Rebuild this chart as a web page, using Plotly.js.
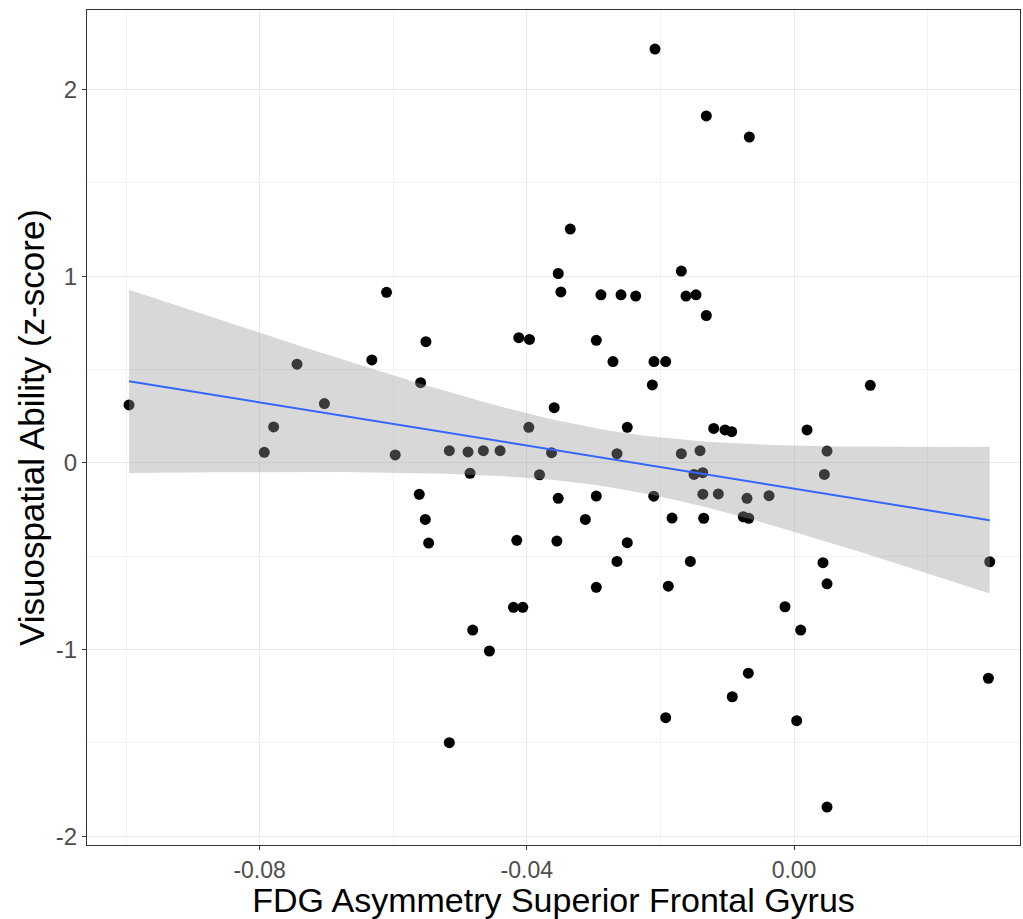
<!DOCTYPE html>
<html>
<head>
<meta charset="utf-8">
<script src="https://cdn.plot.ly/plotly-3.0.1.min.js"></script>
<style>
html,body{margin:0;padding:0;background:#fff;}
#chart{width:1023px;height:919px;}
</style>
</head>
<body>
<div id="chart"></div>
<script>
// FDG asymmetry (superior frontal gyrus)
var fdgAsymmetry = [
 -0.09955,-0.0793,-0.0779,-0.0744,-0.0703,-0.0632,-0.0610,-0.0597,-0.0559,-0.0551,
 -0.0561,-0.0552,-0.0547,-0.0335,-0.0353,-0.01687,-0.0349,-0.0289,-0.0259,-0.0237,
 -0.01617,-0.01467,-0.01313,-0.0412,-0.0396,-0.0296,-0.0271,-0.02096,-0.01921,-0.02121,
 -0.0359,-0.0397,-0.02496,-0.01202,-0.0516,-0.0488,-0.0465,-0.0440,-0.0363,-0.0265,
 -0.01687,-0.01407,-0.0485,-0.0381,-0.01497,-0.01367,-0.0353,-0.0296,-0.0210,-0.01365,
 -0.01133,-0.03124,-0.01826,-0.01352,-0.0415,-0.0355,-0.02496,-0.0265,-0.01552,-0.0296,
 -0.01882,-0.0420,-0.0406,-0.0481,-0.0456,-0.01921,-0.0516,-0.02081,-0.01313,-0.00669,
 0.01142,-0.01033,-0.00933,0.00195,0.00494,0.00454,-0.00704,-0.00374,-0.00759,-0.00678,
 0.00434,0.0293,0.00494,-0.00135,0.00100,-0.00684,-0.00924,0.0004,0.00494,0.0291
];
// Visuospatial ability z-scores
var visuospatial = [
 0.310,0.056,0.192,0.528,0.317,0.551,0.913,0.042,0.429,0.649,
 -0.169,-0.303,-0.430,1.252,1.014,1.027,0.915,0.900,0.900,0.893,
 0.893,0.900,0.789,0.670,0.661,0.656,0.542,0.542,0.542,0.417,
 0.295,0.190,0.190,0.184,0.065,0.058,0.065,0.065,0.054,0.049,
 0.049,0.065,-0.056,-0.064,-0.062,-0.053,-0.190,-0.178,-0.179,-0.168,
 -0.167,-0.303,-0.296,-0.297,-0.415,-0.419,-0.428,-0.528,-0.528,-0.667,
 -0.661,-0.774,-0.774,-0.896,-1.008,-1.365,-1.499,2.216,1.858,1.745,
 0.415,0.176,0.167,0.176,0.063,-0.062,-0.190,-0.176,-0.289,-0.297,
 -0.535,-0.530,-0.648,-0.771,-0.896,-1.127,-1.253,-1.381,-1.844,-1.154
];
var xTickVals = [-0.08,-0.04,0.00];
var xTickText = ["-0.08","-0.04","0.00"];
var yTickVals = [-2,-1,0,1,2];
var yTickText = ["-2","-1","0","1","2"];

// linear model fit with 95% confidence band (like geom_smooth(method="lm"))
var n = fdgAsymmetry.length;
var mx = 0, my = 0;
for (var i=0;i<n;i++){mx+=fdgAsymmetry[i];my+=visuospatial[i];}
mx/=n; my/=n;
var sxx=0, sxy=0;
for (i=0;i<n;i++){sxx+=(fdgAsymmetry[i]-mx)*(fdgAsymmetry[i]-mx);sxy+=(fdgAsymmetry[i]-mx)*(visuospatial[i]-my);}
var b1 = sxy/sxx, b0 = my-b1*mx;
var sse=0;
for (i=0;i<n;i++){var r=visuospatial[i]-(b0+b1*fdgAsymmetry[i]);sse+=r*r;}
var s = Math.sqrt(sse/(n-2));
var tq = 1.9873;
var xmin = Math.min.apply(null,fdgAsymmetry), xmax = Math.max.apply(null,fdgAsymmetry);
var fx=[], fy=[], up=[], lo=[];
for (i=0;i<80;i++){
  var xv = xmin + (xmax-xmin)*i/79;
  var yv = b0+b1*xv;
  var se = s*Math.sqrt(1/n + (xv-mx)*(xv-mx)/sxx);
  fx.push(xv); fy.push(yv); up.push(yv+tq*se); lo.push(yv-tq*se);
}
var polyX = fx.concat(fx.slice().reverse());
var polyY = up.concat(lo.slice().reverse());

var traces = [
  {x:fdgAsymmetry, y:visuospatial, type:'scatter', mode:'markers',
   marker:{color:'#000000', size:11, line:{width:0}}, hoverinfo:'none', showlegend:false},
  {x:polyX, y:polyY, type:'scatter', mode:'lines', fill:'toself',
   fillcolor:'rgba(153,153,153,0.38)', line:{width:0, color:'rgba(0,0,0,0)'}, hoverinfo:'none', showlegend:false},
  {x:fx, y:fy, type:'scatter', mode:'lines', line:{color:'#3366FF', width:2}, hoverinfo:'none', showlegend:false}
];

var font = "Liberation Sans, Arial, sans-serif";
var layout = {
  width:1023, height:919,
  margin:{l:87, r:3, t:10, b:74},
  paper_bgcolor:'#ffffff', plot_bgcolor:'#ffffff',
  showlegend:false,
  xaxis:{
    range:[-0.10584, 0.03383],
    tickvals:xTickVals, ticktext:xTickText,
    ticks:'outside', ticklen:4, tickwidth:1, tickcolor:'#333333',
    tickfont:{family:font, size:23, color:'#4D4D4D'},
    showgrid:true, gridcolor:'#EBEBEB', gridwidth:1,
    minor:{dtick:0.04, tick0:-0.10, showgrid:true, gridcolor:'#F2F2F2', gridwidth:1, ticks:''},
    showline:true, mirror:true, linecolor:'#333333', linewidth:1,
    zeroline:false,
    title:{text:'FDG Asymmetry Superior Frontal Gyrus', font:{family:font, size:34, color:'#000000'}, standoff:3}
  },
  yaxis:{
    range:[-2.0471, 2.4253],
    tickvals:yTickVals, ticktext:yTickText,
    ticks:'outside', ticklen:4, tickwidth:1, tickcolor:'#333333',
    tickfont:{family:font, size:24, color:'#4D4D4D'},
    showgrid:true, gridcolor:'#EBEBEB', gridwidth:1,
    minor:{dtick:1, tick0:-1.5, showgrid:true, gridcolor:'#F2F2F2', gridwidth:1, ticks:''},
    showline:true, mirror:true, linecolor:'#333333', linewidth:1,
    zeroline:false,
    title:{text:'Visuospatial Ability (z-score)', font:{family:font, size:35, color:'#000000'}, standoff:0}
  }
};
Plotly.newPlot('chart', traces, layout, {staticPlot:true, displayModeBar:false});
</script>
</body>
</html>
